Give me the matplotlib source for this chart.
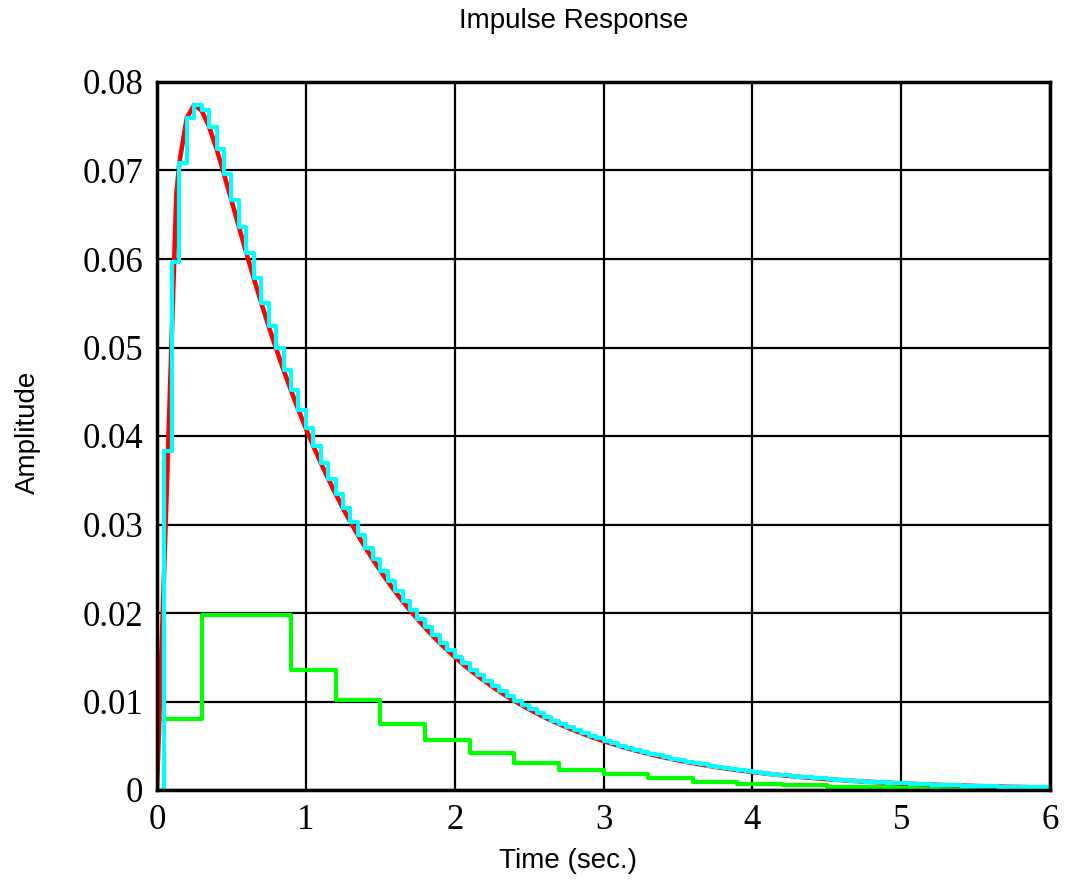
import numpy as np
import matplotlib
matplotlib.use("Agg")
import matplotlib.pyplot as plt

# ---- data ----
sample_period = 0.05
# cyan: sampled impulse response (held, steps-post), t = 0, 0.05, ..., 6.0
cyan_amp = [
    0.0, 0.03830, 0.05966, 0.07084, 0.07593, 0.07741, 0.07678, 0.07494, 0.07245, 0.06961,
    0.06664, 0.06365, 0.06070, 0.05784, 0.05508, 0.05242, 0.04989, 0.04747, 0.04516, 0.04296,
    0.04087, 0.03888, 0.03699, 0.03518, 0.03347, 0.03183, 0.03028, 0.02880, 0.02740, 0.02606,
    0.02479, 0.02358, 0.02243, 0.02134, 0.02030, 0.01931, 0.01837, 0.01747, 0.01662, 0.01581,
    0.01504, 0.01430, 0.01361, 0.01294, 0.01231, 0.01171, 0.01114, 0.01060, 0.01008, 0.00959,
    0.00912, 0.00868, 0.00825, 0.00785, 0.00747, 0.00710, 0.00676, 0.00643, 0.00611, 0.00582,
    0.00553, 0.00526, 0.00501, 0.00476, 0.00453, 0.00431, 0.00410, 0.00390, 0.00371, 0.00353,
    0.00336, 0.00319, 0.00304, 0.00289, 0.00275, 0.00261, 0.00249, 0.00236, 0.00225, 0.00214,
    0.00204, 0.00194, 0.00184, 0.00175, 0.00167, 0.00159, 0.00151, 0.00143, 0.00136, 0.00130,
    0.00123, 0.00117, 0.00112, 0.00106, 0.00101, 0.00096, 0.00091, 0.00087, 0.00083, 0.00079,
    0.00075, 0.00071, 0.00068, 0.00064, 0.00061, 0.00058, 0.00055, 0.00053, 0.00050, 0.00048,
    0.00045, 0.00043, 0.00041, 0.00039, 0.00037, 0.00035, 0.00034, 0.00032, 0.00030, 0.00029,
    0.00028,
]
cyan_time = np.round(np.arange(len(cyan_amp)) * sample_period, 4)

# red: continuous response (polyline)
red_time = [0.0, 0.13] + list(cyan_time[3:])
red_amp = [0.0, 0.0673] + cyan_amp[3:]

# green: coarse sampled response (steps-post), period 0.3
green_time = [0.0, 0.3, 0.6, 0.9, 1.2, 1.5, 1.8, 2.1, 2.4, 2.7, 3.0, 3.3, 3.6, 3.9,
              4.2, 4.5, 4.8, 5.1, 5.4, 5.7, 6.0]
green_amp = [0.0080, 0.0198, 0.0198, 0.0136, 0.0102, 0.0075, 0.0057, 0.0042, 0.0030,
             0.00226, 0.0018, 0.0013, 0.00096, 0.00072, 0.00053, 0.00039, 0.00029,
             0.00021, 0.00016, 0.00012, 0.00012]

x_ticks = [0, 1, 2, 3, 4, 5, 6]
y_ticks = [0, 0.01, 0.02, 0.03, 0.04, 0.05, 0.06, 0.07, 0.08]
y_tick_labels = ["0", "0.01", "0.02", "0.03", "0.04", "0.05", "0.06", "0.07", "0.08"]
x_tick_labels = ["0", "1", "2", "3", "4", "5", "6"]

# ---- figure ----
W, H = 1073, 881
fig = plt.figure(figsize=(W / 100, H / 100), dpi=100)
ax = fig.add_axes([157 / W, 1 - 790 / H, 893 / W, 708 / H])

ax.step(green_time, green_amp, where="post", color="#00ff00", lw=3.0, zorder=3)
ax.plot(red_time, red_amp, color="#ff0000", lw=3.3, zorder=4)
ax.step(cyan_time, cyan_amp, where="post", color="#00ffff", lw=3.0, zorder=5)

ax.set_xlim(0, 6)
ax.set_ylim(0, 0.08)
ax.set_xticks(x_ticks)
ax.set_xticklabels(x_tick_labels)
ax.set_yticks(y_ticks)
ax.set_yticklabels(y_tick_labels)
ax.grid(True, color="black", lw=1.6, ls="-")
ax.set_axisbelow(True)
for s in ax.spines.values():
    s.set_linewidth(2.5)
    s.set_color("black")
    s.set_zorder(6)
ax.tick_params(axis="both", direction="in", length=0, pad=10)
for lab in ax.get_xticklabels() + ax.get_yticklabels():
    lab.set_fontfamily("Liberation Serif")
    lab.set_fontsize(25)

fig.text(574 / W, 1 - 21 / H, "Impulse Response", ha="center", va="center",
         fontsize=20, family="Liberation Sans")
fig.text(568 / W, 1 - 861 / H, "Time (sec.)", ha="center", va="center",
         fontsize=20, family="Liberation Sans")
fig.text(28 / W, 1 - 432 / H, "Amplitude", ha="center", va="center", rotation=90,
         fontsize=20, family="Liberation Sans")

fig.savefig("out.png", dpi=100, facecolor="white")
